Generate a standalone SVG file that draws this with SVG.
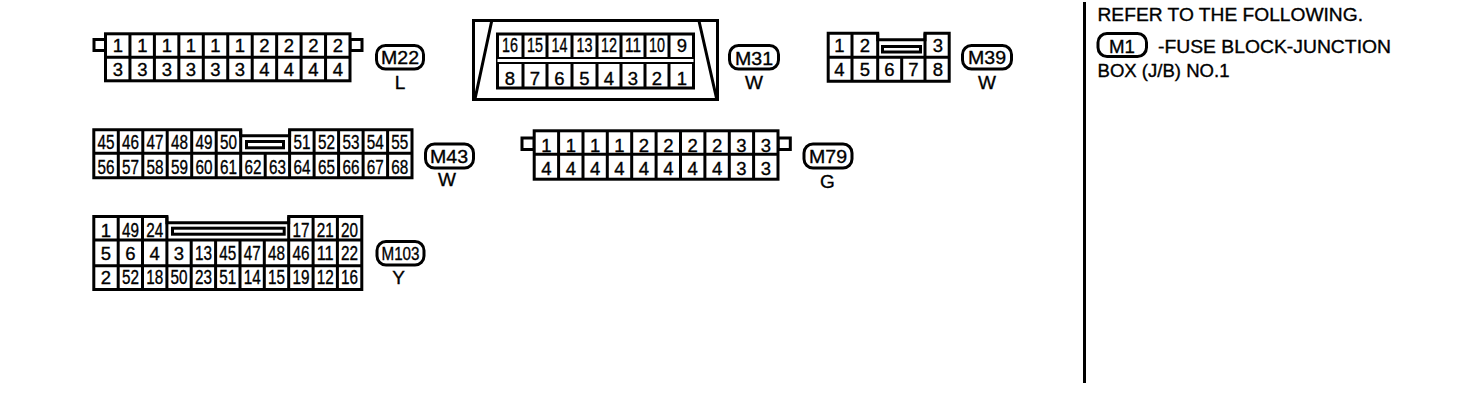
<svg xmlns="http://www.w3.org/2000/svg" width="1472" height="414" viewBox="0 0 1472 414">
<style>
text{font-family:"Liberation Sans",Arial,sans-serif;fill:#000;stroke:#000;stroke-width:.35px;text-anchor:middle}
.d{font-size:18.5px}
.n{font-size:19.5px}
.l{font-size:19px}
.t{font-size:18.5px;text-anchor:start}
.f{fill:#fff;stroke:#000;stroke-width:3}
.g{fill:none;stroke:#000;stroke-width:3}
.p{fill:#fff;stroke:#000;stroke-width:3}
</style>
<rect width="1472" height="414" fill="#fff"/>

<g id="M22">
<path class="f" d="M94 39.5H105.5V50.5H94ZM350 39.5H362V50.5H350Z"/>
<rect class="f" x="105.5" y="33.8" width="244.5" height="47"/>
<path class="g" d="M105.5 57.3H350M129.95 33.8V80.8M154.4 33.8V80.8M178.85 33.8V80.8M203.3 33.8V80.8M227.75 33.8V80.8M252.2 33.8V80.8M276.65 33.8V80.8M301.1 33.8V80.8M325.55 33.8V80.8"/>
<g class="d"><text x="118" y="51.7">1</text><text x="142.5" y="51.7">1</text><text x="167" y="51.7">1</text><text x="191" y="51.7">1</text><text x="215.5" y="51.7">1</text><text x="240" y="51.7">1</text><text x="264.5" y="51.7">2</text><text x="289" y="51.7">2</text><text x="313.3" y="51.7">2</text><text x="338" y="51.7">2</text>
<text x="118" y="76">3</text><text x="142.5" y="76">3</text><text x="167" y="76">3</text><text x="191" y="76">3</text><text x="215.5" y="76">3</text><text x="240" y="76">3</text><text x="264.5" y="76">4</text><text x="289" y="76">4</text><text x="313.3" y="76">4</text><text x="338" y="76">4</text></g>
<rect class="p" x="376.5" y="45.5" width="47" height="23.5" rx="9"/>
<text class="l" x="400" y="64" textLength="38" lengthAdjust="spacingAndGlyphs">M22</text>
<text class="l" x="400" y="88.5">L</text>
</g>

<g id="M31">
<rect class="f" x="473.5" y="20.5" width="244" height="79"/>
<path class="g" d="M491.7 21L475 99M699 21L716.7 99"/>
<rect class="f" x="497.5" y="34" width="196" height="54"/>
<rect x="497.5" y="57" width="196" height="7" fill="#000"/>
<rect x="497.5" y="59" width="196" height="3" fill="#fff"/>
<path class="g" d="M523 34V57M547 34V57M572 34V57M597 34V57M621 34V57M645 34V57M669 34V57M523 64V88M547 64V88M572 64V88M597 64V88M621 64V88M645 64V88M669 64V88"/>
<g class="n"><text x="510" y="51.7" textLength="16" lengthAdjust="spacingAndGlyphs">16</text><text x="535" y="51.7" textLength="16" lengthAdjust="spacingAndGlyphs">15</text><text x="559.5" y="51.7" textLength="16" lengthAdjust="spacingAndGlyphs">14</text><text x="584.5" y="51.7" textLength="16" lengthAdjust="spacingAndGlyphs">13</text><text x="609" y="51.7" textLength="16" lengthAdjust="spacingAndGlyphs">12</text><text x="633" y="51.7" textLength="16" lengthAdjust="spacingAndGlyphs">11</text><text x="657" y="51.7" textLength="16" lengthAdjust="spacingAndGlyphs">10</text></g>
<g class="d"><text x="682" y="51.7">9</text><text x="510" y="84.5">8</text><text x="535" y="84.5">7</text><text x="559.5" y="84.5">6</text><text x="584.5" y="84.5">5</text><text x="609" y="84.5">4</text><text x="633" y="84.5">3</text><text x="657" y="84.5">2</text><text x="682" y="84.5">1</text></g>
<rect class="p" x="729.5" y="45.5" width="49" height="23.5" rx="9"/>
<text class="l" x="754" y="64.5" textLength="38" lengthAdjust="spacingAndGlyphs">M31</text>
<text class="l" x="754" y="89">W</text>
</g>

<g id="M39">
<path class="f" d="M828.2 33.2H877.7V39.8H925V33.2H949.2V81.2H828.2Z"/>
<path class="g" d="M828.2 57.3H949.2M852 33.2V81.2M877.7 33.2V81.2M901.7 57.3V81.2M925 33.2V81.2"/>
<rect class="g" x="882.5" y="46.5" width="38" height="5.5"/>
<g class="d"><text x="839.5" y="51.7">1</text><text x="865" y="51.7">2</text><text x="938" y="51.7">3</text><text x="839.5" y="76">4</text><text x="865" y="76">5</text><text x="889.5" y="76">6</text><text x="913.5" y="76">7</text><text x="938" y="76">8</text></g>
<rect class="p" x="962.5" y="45.5" width="49" height="23.5" rx="9"/>
<text class="l" x="987" y="64" textLength="38" lengthAdjust="spacingAndGlyphs">M39</text>
<text class="l" x="987" y="88.5">W</text>
</g>

<g id="M43">
<path class="f" d="M93.8 129.8H240.7V135.7H289.6V129.8H412V177.8H93.8Z"/>
<path class="g" d="M93.8 153.3H412M118.3 129.8V177.8M142.8 129.8V177.8M167.2 129.8V177.8M191.7 129.8V177.8M216.2 129.8V177.8M240.7 129.8V177.8M265.2 153.3V177.8M289.6 129.8V177.8M314.1 129.8V177.8M338.6 129.8V177.8M363.1 129.8V177.8M387.6 129.8V177.8"/>
<rect class="g" x="246.5" y="141.5" width="37" height="6.3"/>
<g class="n"><text x="106" y="148.5" textLength="17" lengthAdjust="spacingAndGlyphs">45</text><text x="130.5" y="148.5" textLength="17" lengthAdjust="spacingAndGlyphs">46</text><text x="155" y="148.5" textLength="17" lengthAdjust="spacingAndGlyphs">47</text><text x="179.5" y="148.5" textLength="17" lengthAdjust="spacingAndGlyphs">48</text><text x="204" y="148.5" textLength="17" lengthAdjust="spacingAndGlyphs">49</text><text x="228.5" y="148.5" textLength="17" lengthAdjust="spacingAndGlyphs">50</text><text x="301.9" y="148.5" textLength="17" lengthAdjust="spacingAndGlyphs">51</text><text x="326.4" y="148.5" textLength="17" lengthAdjust="spacingAndGlyphs">52</text><text x="350.9" y="148.5" textLength="17" lengthAdjust="spacingAndGlyphs">53</text><text x="375.3" y="148.5" textLength="17" lengthAdjust="spacingAndGlyphs">54</text><text x="399.8" y="148.5" textLength="17" lengthAdjust="spacingAndGlyphs">55</text>
<text x="106" y="173.5" textLength="17" lengthAdjust="spacingAndGlyphs">56</text><text x="130.5" y="173.5" textLength="17" lengthAdjust="spacingAndGlyphs">57</text><text x="155" y="173.5" textLength="17" lengthAdjust="spacingAndGlyphs">58</text><text x="179.5" y="173.5" textLength="17" lengthAdjust="spacingAndGlyphs">59</text><text x="204" y="173.5" textLength="17" lengthAdjust="spacingAndGlyphs">60</text><text x="228.5" y="173.5" textLength="17" lengthAdjust="spacingAndGlyphs">61</text><text x="253" y="173.5" textLength="17" lengthAdjust="spacingAndGlyphs">62</text><text x="277.4" y="173.5" textLength="17" lengthAdjust="spacingAndGlyphs">63</text><text x="301.9" y="173.5" textLength="17" lengthAdjust="spacingAndGlyphs">64</text><text x="326.4" y="173.5" textLength="17" lengthAdjust="spacingAndGlyphs">65</text><text x="350.9" y="173.5" textLength="17" lengthAdjust="spacingAndGlyphs">66</text><text x="375.3" y="173.5" textLength="17" lengthAdjust="spacingAndGlyphs">67</text><text x="399.8" y="173.5" textLength="17" lengthAdjust="spacingAndGlyphs">68</text></g>
<rect class="p" x="425.5" y="144" width="48" height="24" rx="9"/>
<text class="l" x="449" y="162.5" textLength="38" lengthAdjust="spacingAndGlyphs">M43</text>
<text class="l" x="447" y="185.5">W</text>
</g>

<g id="M79">
<path class="f" d="M522 138H534.2V149.5H522ZM778 138H790.3V149.5H778Z"/>
<rect class="f" x="534.2" y="130.8" width="243.8" height="48.4"/>
<path class="g" d="M534.2 154.3H778M558.6 130.8V179.2M583 130.8V179.2M607.3 130.8V179.2M631.7 130.8V179.2M656.1 130.8V179.2M680.5 130.8V179.2M704.9 130.8V179.2M729.3 130.8V179.2M753.6 130.8V179.2"/>
<g class="d"><text x="546.4" y="151.7">1</text><text x="570.8" y="151.7">1</text><text x="595.2" y="151.7">1</text><text x="619.5" y="151.7">1</text><text x="643.9" y="151.7">2</text><text x="668.3" y="151.7">2</text><text x="692.7" y="151.7">2</text><text x="717.1" y="151.7">2</text><text x="741.5" y="151.7">3</text><text x="765.8" y="151.7">3</text>
<text x="546.4" y="175">4</text><text x="570.8" y="175">4</text><text x="595.2" y="175">4</text><text x="619.5" y="175">4</text><text x="643.9" y="175">4</text><text x="668.3" y="175">4</text><text x="692.7" y="175">4</text><text x="717.1" y="175">4</text><text x="741.5" y="175">3</text><text x="765.8" y="175">3</text></g>
<rect class="p" x="804" y="144" width="48" height="24" rx="9"/>
<text class="l" x="828" y="162.5" textLength="38" lengthAdjust="spacingAndGlyphs">M79</text>
<text class="l" x="827.3" y="188">G</text>
</g>

<g id="M103">
<path class="f" d="M93.8 216.5H166.9V222.7H288.7V216.5H361.8V289.5H93.8Z"/>
<path class="g" d="M93.8 240H361.8M93.8 265.7H361.8M118.2 216.5V289.5M142.5 216.5V289.5M166.9 216.5V289.5M191.2 240V289.5M215.6 240V289.5M240 240V289.5M264.3 240V289.5M288.7 216.5V289.5M313.1 216.5V289.5M337.4 216.5V289.5"/>
<rect class="g" x="172.5" y="228.2" width="111.7" height="6"/>
<g class="d"><text x="106" y="236.5">1</text><text x="106" y="260">5</text><text x="130.4" y="260">6</text><text x="154.7" y="260">4</text><text x="179" y="260">3</text><text x="106" y="283.5">2</text></g>
<g class="n"><text x="130.4" y="236.5" textLength="17" lengthAdjust="spacingAndGlyphs">49</text><text x="154.7" y="236.5" textLength="17" lengthAdjust="spacingAndGlyphs">24</text><text x="300.9" y="236.5" textLength="17" lengthAdjust="spacingAndGlyphs">17</text><text x="325.2" y="236.5" textLength="17" lengthAdjust="spacingAndGlyphs">21</text><text x="349.6" y="236.5" textLength="17" lengthAdjust="spacingAndGlyphs">20</text>
<text x="203.4" y="260" textLength="17" lengthAdjust="spacingAndGlyphs">13</text><text x="227.8" y="260" textLength="17" lengthAdjust="spacingAndGlyphs">45</text><text x="252.2" y="260" textLength="17" lengthAdjust="spacingAndGlyphs">47</text><text x="276.5" y="260" textLength="17" lengthAdjust="spacingAndGlyphs">48</text><text x="300.9" y="260" textLength="17" lengthAdjust="spacingAndGlyphs">46</text><text x="325.2" y="260" textLength="17" lengthAdjust="spacingAndGlyphs">11</text><text x="349.6" y="260" textLength="17" lengthAdjust="spacingAndGlyphs">22</text>
<text x="130.4" y="283.5" textLength="17" lengthAdjust="spacingAndGlyphs">52</text><text x="154.7" y="283.5" textLength="17" lengthAdjust="spacingAndGlyphs">18</text><text x="179" y="283.5" textLength="17" lengthAdjust="spacingAndGlyphs">50</text><text x="203.4" y="283.5" textLength="17" lengthAdjust="spacingAndGlyphs">23</text><text x="227.8" y="283.5" textLength="17" lengthAdjust="spacingAndGlyphs">51</text><text x="252.2" y="283.5" textLength="17" lengthAdjust="spacingAndGlyphs">14</text><text x="276.5" y="283.5" textLength="17" lengthAdjust="spacingAndGlyphs">15</text><text x="300.9" y="283.5" textLength="17" lengthAdjust="spacingAndGlyphs">19</text><text x="325.2" y="283.5" textLength="17" lengthAdjust="spacingAndGlyphs">12</text><text x="349.6" y="283.5" textLength="17" lengthAdjust="spacingAndGlyphs">16</text></g>
<rect class="p" x="377" y="241.5" width="47" height="23.5" rx="9"/>
<text class="l" x="400.5" y="260" textLength="38" lengthAdjust="spacingAndGlyphs">M103</text>
<text class="l" x="398.5" y="284">Y</text>
</g>

<g id="note">
<path d="M1084.5 2V383" stroke="#000" stroke-width="3" fill="none"/>
<text class="t" x="1097.5" y="20.5" textLength="265.5" lengthAdjust="spacingAndGlyphs">REFER TO THE FOLLOWING.</text>
<rect class="p" x="1098" y="33.5" width="48.5" height="23" rx="9"/>
<text class="l" x="1122" y="53" textLength="26" lengthAdjust="spacingAndGlyphs">M1</text>
<text class="t" x="1158" y="53" textLength="233" lengthAdjust="spacingAndGlyphs">-FUSE BLOCK-JUNCTION</text>
<text class="t" x="1097.5" y="76.7" textLength="132" lengthAdjust="spacingAndGlyphs">BOX (J/B) NO.1</text>
</g>
</svg>
